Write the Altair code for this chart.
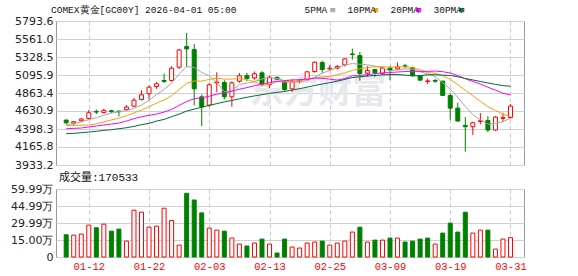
import altair as alt
import pandas as pd

dates = ["01-07", "01-08", "01-09", "01-12", "01-13", "01-14", "01-15", "01-16", "01-19", "01-20",
         "01-21", "01-22", "01-23", "01-26", "01-27", "01-28", "01-29", "01-30", "02-02", "02-03",
         "02-04", "02-05", "02-06", "02-09", "02-10", "02-11", "02-12", "02-13", "02-16", "02-17",
         "02-18", "02-19", "02-20", "02-23", "02-24", "02-25", "02-26", "02-27", "03-02", "03-03",
         "03-04", "03-05", "03-06", "03-09", "03-10", "03-11", "03-12", "03-13", "03-16", "03-17",
         "03-18", "03-19", "03-20", "03-23", "03-24", "03-25", "03-26", "03-27", "03-30", "03-31"]

opens = [4513, 4475, 4505, 4535, 4625, 4612, 4634, 4630, 4647, 4694,
         4780, 4853, 4947, 5025, 5025, 5197, 5463, 5424, 4814, 4707,
         4995, 5000, 4814, 5016, 5089, 5059, 5124, 4973, 5063, 5008,
         4917, 5012, 5038, 5141, 5257, 5175, 5184, 5227, 5368, 5347,
         5119, 5167, 5115, 5184, 5175, 5214, 5188, 5089, 5012, 5025,
         5016, 4832, 4668, 4445, 4428, 4496, 4509, 4385, 4535, 4548]
highs = [4522, 4497, 4540, 4643, 4651, 4660, 4647, 4634, 4707, 4797,
         4900, 4960, 5003, 5115, 5210, 5433, 5639, 5497, 4844, 4995,
         5132, 5029, 5012, 5124, 5124, 5141, 5145, 5089, 5081, 5025,
         5038, 5046, 5145, 5270, 5283, 5222, 5227, 5313, 5437, 5394,
         5210, 5175, 5201, 5210, 5257, 5240, 5205, 5098, 5050, 5046,
         5025, 4857, 4737, 4552, 4492, 4604, 4565, 4565, 4608, 4720]
lows = [4462, 4445, 4492, 4522, 4591, 4600, 4604, 4561, 4634, 4686,
        4767, 4780, 4917, 4995, 5012, 5175, 5197, 4703, 4436, 4686,
        4874, 4780, 4686, 4995, 5016, 5038, 4952, 4930, 5033, 4887,
        4874, 4986, 5029, 5124, 5124, 5154, 5167, 5205, 5295, 5020,
        5072, 5072, 5098, 5029, 5158, 5184, 5076, 5025, 4978, 4995,
        4823, 4518, 4492, 4106, 4320, 4458, 4359, 4372, 4492, 4531]
closes = [4479, 4492, 4527, 4608, 4617, 4638, 4625, 4621, 4681, 4771,
          4840, 4939, 4982, 5012, 5184, 5420, 5433, 4917, 4686, 4969,
          5003, 4814, 4995, 5085, 5051, 5111, 4982, 5068, 5042, 4909,
          5008, 5020, 5137, 5261, 5167, 5184, 5205, 5304, 5360, 5115,
          5154, 5124, 5184, 5158, 5201, 5210, 5089, 5029, 5020, 5016,
          4832, 4668, 4501, 4428, 4479, 4505, 4385, 4552, 4544, 4694]

# volume in 万 (10,000 contracts)
volumes_wan = [19.6, 19.3, 20.2, 28.1, 25.8, 29.0, 22.8, 24.6, 14.0, 41.3,
               39.5, 26.3, 27.2, 43.0, 32.2, 10.5, 56.2, 50.3, 38.9, 25.5,
               23.7, 22.8, 16.7, 11.4, 9.7, 12.3, 15.8, 11.4, 3.5, 15.8,
               8.8, 7.9, 12.3, 13.2, 14.0, 10.5, 12.3, 14.0, 22.0, 26.3,
               13.2, 14.9, 14.9, 16.7, 16.7, 13.2, 14.0, 15.8, 16.7, 11.4,
               21.1, 29.9, 22.0, 39.5, 21.1, 23.7, 23.7, 7.0, 15.8, 17.0533]
vol_up = [0, 1, 1, 1, 0, 1, 0, 0, 1, 1,
          1, 1, 1, 1, 1, 1, 0, 0, 0, 1,
          1, 0, 1, 1, 0, 1, 0, 1, 0, 0,
          1, 1, 1, 1, 0, 1, 1, 1, 1, 0,
          1, 0, 1, 0, 1, 0, 0, 0, 0, 1,
          0, 0, 0, 0, 1, 1, 0, 1, 1, 1]

ma5 = [4452, 4470, 4490, 4520, 4545, 4576, 4603, 4622, 4636, 4667,
       4708, 4770, 4843, 4909, 4991, 5107, 5206, 5193, 5128, 5085,
       5002, 4878, 4893, 4973, 4990, 5011, 5045, 5059, 5051, 5022,
       5002, 5009, 5023, 5067, 5119, 5154, 5191, 5224, 5244, 5234,
       5228, 5211, 5187, 5147, 5164, 5175, 5168, 5137, 5110, 5073,
       4997, 4913, 4807, 4689, 4582, 4516, 4460, 4470, 4493, 4536]
ma10 = [4445, 4446, 4447, 4450, 4465, 4490, 4515, 4538, 4570, 4606,
        4642, 4687, 4732, 4773, 4829, 4908, 4988, 5018, 5018, 5038,
        5055, 5042, 5043, 5051, 5037, 5006, 4961, 4976, 5012, 5006,
        5007, 5027, 5041, 5059, 5071, 5078, 5100, 5124, 5156, 5176,
        5191, 5201, 5206, 5196, 5199, 5202, 5190, 5162, 5128, 5119,
        5086, 5041, 4972, 4899, 4827, 4757, 4686, 4639, 4591, 4559]
ma20 = [4402, 4406, 4411, 4424, 4437, 4450, 4462, 4475, 4501, 4531,
        4557, 4574, 4591, 4617, 4651, 4703, 4754, 4789, 4802, 4822,
        4848, 4864, 4888, 4912, 4933, 4957, 4975, 4997, 5015, 5022,
        5031, 5035, 5042, 5055, 5054, 5042, 5031, 5050, 5084, 5091,
        5099, 5114, 5124, 5127, 5135, 5140, 5145, 5143, 5142, 5147,
        5139, 5121, 5089, 5047, 5013, 4979, 4938, 4901, 4860, 4839]
ma30 = [4338, 4342, 4351, 4359, 4368, 4381, 4389, 4402, 4415, 4432,
        4454, 4471, 4501, 4522, 4557, 4591, 4630, 4655, 4680, 4703,
        4726, 4748, 4767, 4788, 4808, 4826, 4842, 4858, 4872, 4883,
        4901, 4919, 4939, 4961, 4979, 4997, 5017, 5039, 5062, 5073,
        5084, 5090, 5097, 5102, 5102, 5095, 5084, 5088, 5099, 5100,
        5094, 5090, 5073, 5051, 5032, 5012, 4992, 4975, 4958, 4951]

ma_names = ["5PMA", "10PMA", "20PMA", "30PMA"]
ma_colors = ["#a6a6a6", "#f5a300", "#ff00ff", "#006b36"]

price_ticks = [3933.2, 4165.8, 4398.3, 4630.9, 4863.4, 5095.9, 5328.5, 5561.0, 5793.6]
vol_ticks = [0, 149975, 299950, 449925, 599900]
vol_tick_labels = ["0", "15.00万", "29.99万", "44.99万", "59.99万"]
tick_idx = [4, 12, 20, 28, 36, 44, 52, 60]

title_text = "COMEX黄金[GC00Y] 2026-04-01 05:00"
watermark = "东方财富"

# ---------------------------------------------------------------- tables
n = len(dates)
idx = list(range(1, n + 1))
df = pd.DataFrame({
    "i": idx, "date": dates, "open": opens, "high": highs, "low": lows, "close": closes,
    "vol": [v * 10000 for v in volumes_wan],
    "vdir": ["up" if u else "down" for u in vol_up],
})
df["dir"] = ["up" if c >= o else "down" for o, c in zip(opens, closes)]

ma_df = pd.concat([pd.DataFrame({"i": idx, "v": vals, "ma": name})
                   for name, vals in zip(ma_names, [ma5, ma10, ma20, ma30])])

xs = alt.Scale(domain=[0.31, 61.13], nice=False, zero=False)
ys = alt.Scale(domain=[price_ticks[0], price_ticks[-1]], nice=False, zero=False)
stroke_scale = alt.Scale(domain=["up", "down"], range=["#ff0000", "#008000"])
fill_scale = alt.Scale(domain=["up", "down"], range=["#ffffff", "#008000"])

grid_x = dict(values=tick_idx, ticks=False, domain=False, grid=True,
              gridDash=[4, 3], gridColor="#c8c8c8", gridWidth=1)

date_expr = "[" + ",".join("'%s'" % d for d in dates) + "][datum.value - 1]"
vol_expr = ("[" + ",".join("'%s'" % s for s in vol_tick_labels) + "][indexof(["
            + ",".join(str(v) for v in vol_ticks) + "], datum.value)]")
legend_expr = "datum.label == '5PMA' ? '\u00a05PMA' : datum.label"
# legend swatch drawn to the right of its label (path units are pixels at symbolSize 4)
swatch_path = ("M 30.5 -1.6 H 35.5 M 30.5 -0.8 H 35.5 M 30.5 0 H 35.5 "
               "M 30.5 0.8 H 35.5 M 30.5 1.6 H 35.5")

y_axis_common = dict(ticks=False, domain=False, gridColor="#d0d0d0", labelPadding=3,
                     minExtent=55, maxExtent=55, labelFont="DejaVu Sans",
                     labelFontSize=11, labelColor="#222222", title=None,
                     labelOverlap=False)

price_x_axis = alt.Axis(labels=False, **grid_x)
price_y_axis = alt.Axis(values=price_ticks, format=".1f", **y_axis_common)

# ---------------------------------------------------------------- price panel
wm = alt.Chart(pd.DataFrame({"t": [watermark]})).mark_text(
    fontSize=34, fontWeight="bold", color="#e7e7ee", font="Noto Sans CJK SC"
).encode(text="t:N", x=alt.value(262), y=alt.value(72))

wick = alt.Chart(df).mark_rule(strokeWidth=1).encode(
    x=alt.X("i:Q", scale=xs, title=None, axis=price_x_axis),
    y=alt.Y("low:Q", scale=ys, title=None, axis=price_y_axis),
    y2="high:Q",
    stroke=alt.Stroke("dir:N", scale=stroke_scale, legend=None),
)
body = alt.Chart(df).mark_bar(size=4, strokeWidth=1).encode(
    x=alt.X("i:Q", scale=xs, title=None, axis=price_x_axis),
    y=alt.Y("open:Q", scale=ys, title=None, axis=price_y_axis),
    y2="close:Q",
    fill=alt.Fill("dir:N", scale=fill_scale, legend=None),
    stroke=alt.Stroke("dir:N", scale=stroke_scale, legend=None),
)
lines = alt.Chart(ma_df).mark_line(strokeWidth=1).encode(
    x=alt.X("i:Q", scale=xs, title=None, axis=price_x_axis),
    y=alt.Y("v:Q", scale=ys, title=None, axis=price_y_axis),
    color=alt.Color("ma:N", sort=ma_names,
                    scale=alt.Scale(domain=ma_names, range=ma_colors),
                    legend=alt.Legend(orient="none", legendX=239, legendY=-16,
                                      direction="horizontal", title=None,
                                      labelFont="Liberation Mono", labelFontSize=9.5,
                                      labelColor="#111111", labelExpr=legend_expr,
                                      symbolType=swatch_path,
                                      symbolSize=4, symbolStrokeWidth=1,
                                      labelAlign="left", labelOffset=0,
                                      symbolOffset=0, columnPadding=alt.ExprRef(expr="-7"),
                                      padding=0)),
)

price = alt.layer(wm, wick, body, lines).properties(
    width=468, height=144,
    title=alt.TitleParams(title_text, anchor="start", frame="group", dx=-5, offset=1,
                          fontSize=9.5, fontWeight="normal", color="#111111",
                          font="Liberation Mono"),
)

# ---------------------------------------------------------------- volume panel
vol = alt.Chart(df).mark_bar(size=4, strokeWidth=1).encode(
    x=alt.X("i:Q", scale=xs, title=None,
            axis=alt.Axis(labelExpr=date_expr, labelColor="#ff0000", labelFont="Liberation Mono",
                          labelFontSize=10.5, labelPadding=4, labelFlush=False, **grid_x)),
    y=alt.Y("vol:Q", scale=alt.Scale(domain=[0, vol_ticks[-1]], nice=False), title=None,
            axis=alt.Axis(values=vol_ticks, labelExpr=vol_expr, **y_axis_common)),
    fill=alt.Fill("vdir:N", scale=fill_scale, legend=None),
    stroke=alt.Stroke("vdir:N", scale=stroke_scale, legend=None),
).properties(
    width=468, height=68,
    title=alt.TitleParams("成交量:%d" % round(volumes_wan[-1] * 10000), anchor="start",
                          frame="group", dx=3, dy=0, offset=0, fontSize=11, fontWeight="normal",
                          color="#111111", font="Liberation Mono, Noto Sans CJK SC"),
)

chart = alt.vconcat(price, vol, spacing=0).properties(
    padding={"left": 0, "top": 4, "right": 0, "bottom": 0},
    background="white",
).configure_view(stroke="#999999", strokeWidth=1).configure_axis(labelOverlap=False)

chart.save("out.html", embed_options={"renderer": "svg", "actions": False})
